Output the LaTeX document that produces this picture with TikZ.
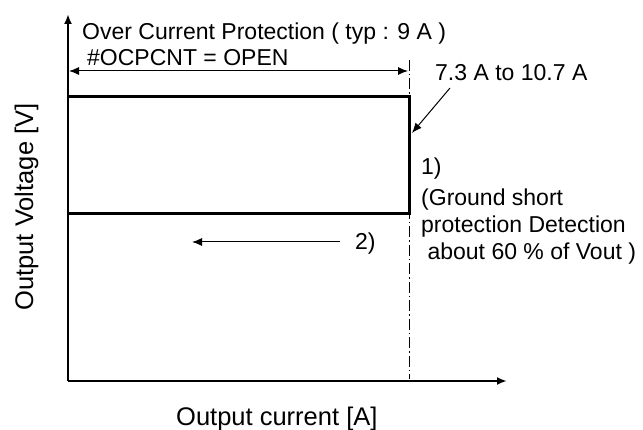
\documentclass[tikz,border=0pt]{standalone}
\usepackage{fontspec}
\setmainfont{Liberation Sans}
\usetikzlibrary{arrows.meta}
\begin{document}
\begin{tikzpicture}[x=1pt,y=-1pt,
  lbl/.style={inner sep=0pt,anchor=base west,font=\fontsize{23}{27}\selectfont},
  axlbl/.style={inner sep=0pt,anchor=base,font=\fontsize{25.5}{30}\selectfont},
  axis/.style={line width=2.3pt,-{Latex[length=10pt,width=8pt]}},
  bold/.style={line width=3pt},
  thin/.style={line width=1pt,-{Latex[length=10pt,width=8pt]}},
  dd/.style={line width=1pt,dash pattern=on 11pt off 3pt on 1.5pt off 3pt}]
\useasboundingbox (0,0) rectangle (643,430);
\coordinate (O) at (68,381);
\coordinate (ytop) at (68,14);
\coordinate (xend) at (507,381);
\coordinate (dtop) at (409,60);
\coordinate (dbot) at (409,379);
\coordinate (tl) at (68,97);
\coordinate (tr) at (409,97);
\coordinate (br) at (409,214);
\coordinate (bl) at (68,214);
\coordinate (al) at (69,71);
\coordinate (ar) at (408,71);
\draw[axis] (O) -- (ytop);
\draw[axis] (O) -- (xend);
\draw[dd] (dtop) -- (dbot);
\draw[bold] (tl) -- (tr) -- (br) -- (bl);
\draw[line width=1pt,{Latex[length=10pt,width=8pt]}-{Latex[length=10pt,width=8pt]}] (al) -- (ar);
\node[lbl] (ocp) at (82,40) {Over Current Protection ( typ : 9 A )};
\node[lbl] (cnt) at (87,66) {\#OCPCNT = OPEN};
\node[lbl] (rng) at (435,81) {7.3 A to 10.7 A};
\coordinate (rngtail) at (450,88);
\coordinate (rnghead) at (412,133);
\draw[thin] (rngtail) -- (rnghead);
\node[lbl] (one) at (421,175) {1)};
\node[lbl] (g1) at (421,206) {(Ground short};
\node[lbl] (g2) at (421,233) {protection Detection};
\node[lbl] (g3) at (421,260) {\ about 60 \% of Vout )};
\node[lbl] (two) at (355,250) {2)};
\coordinate (a2s) at (340,242);
\coordinate (a2e) at (192,242);
\draw[thin] (a2s) -- (a2e);
\node[axlbl,anchor=base west] (xl) at (176,425) {Output current [A]};
\node[axlbl,rotate=90] (yl) at (33,207) {Output Voltage [V]};
\end{tikzpicture}
\end{document}
